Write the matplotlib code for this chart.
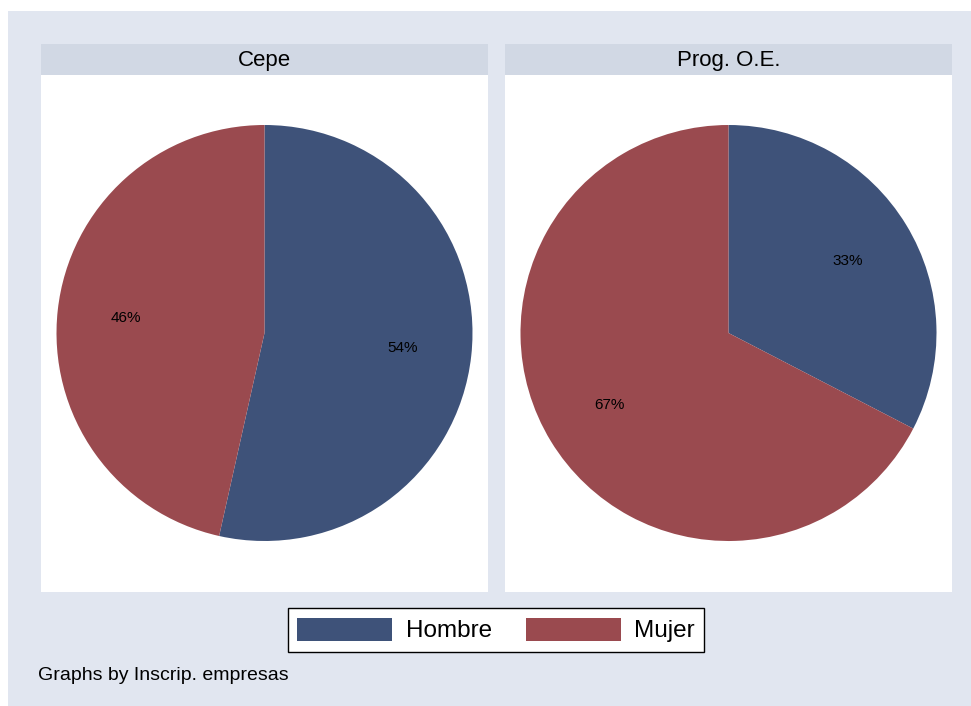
import matplotlib.pyplot as plt
from matplotlib.patches import Rectangle, Patch

# data
panels = ['Cepe', 'Prog. O.E.']
categories = ['Hombre', 'Mujer']
cepe_vals = [53.5, 46.5]
proge_vals = [32.6, 67.4]
colors = ['#3e5279', '#9a4a4f']

plt.rcParams['font.family'] = ['Liberation Sans', 'DejaVu Sans']

W, H = 971, 706
fig = plt.figure(figsize=(W / 100, H / 100), dpi=100)
fig.patch.set_facecolor('white')


def fx(x):
    return x / W


def fy(y):
    return 1 - y / H


# graph region background
fig.add_artist(Rectangle((fx(8), 0), 1 - fx(8), fy(11), transform=fig.transFigure,
                         facecolor='#e1e6f0', edgecolor='none', zorder=0))


def draw_panel(x0, x1, title, vals, cx):
    # title strip
    fig.add_artist(Rectangle((fx(x0), fy(75)), fx(x1 - x0), (75 - 44) / H,
                             transform=fig.transFigure, facecolor='#d1d8e4',
                             edgecolor='none', zorder=1))
    fig.text(fx((x0 + x1) / 2), fy(60.5), title, ha='center', va='center',
             fontsize=16, zorder=2)
    # white plot region
    fig.add_artist(Rectangle((fx(x0), fy(592)), fx(x1 - x0), (592 - 75) / H,
                             transform=fig.transFigure, facecolor='white',
                             edgecolor='none', zorder=1))
    r = 208
    cy = 333
    ax = fig.add_axes([fx(cx - r), fy(cy + r), 2 * r / W, 2 * r / H])
    ax.set_zorder(3)
    wedges, texts, autotexts = ax.pie(vals, colors=colors, startangle=90,
                                      counterclock=False, autopct='%1.0f%%',
                                      pctdistance=0.67, radius=1,
                                      wedgeprops=dict(linewidth=0),
                                      textprops=dict(fontsize=11, color='black'))
    ax.set_xlim(-1, 1)
    ax.set_ylim(-1, 1)
    ax.axis('off')


draw_panel(41, 488, panels[0], cepe_vals, 264.5)
draw_panel(505, 952, panels[1], proge_vals, 728.5)

handles = [Patch(facecolor=c, edgecolor='none') for c in colors]
leg = fig.legend(handles, categories, loc='center', bbox_to_anchor=(fx(496), fy(630)),
                 ncol=2, fontsize=17.5, frameon=True, fancybox=False,
                 handlelength=3.9, handleheight=1.1, handletextpad=0.55,
                 columnspacing=1.4, borderpad=0.4)
leg.get_frame().set_edgecolor('black')
leg.get_frame().set_linewidth(1.0)
leg.get_frame().set_facecolor('white')
leg.get_frame().set_alpha(1)

fig.text(fx(38), fy(675), 'Graphs by Inscrip. empresas', ha='left', va='center',
         fontsize=14)

fig.savefig('out.png', dpi=100)
